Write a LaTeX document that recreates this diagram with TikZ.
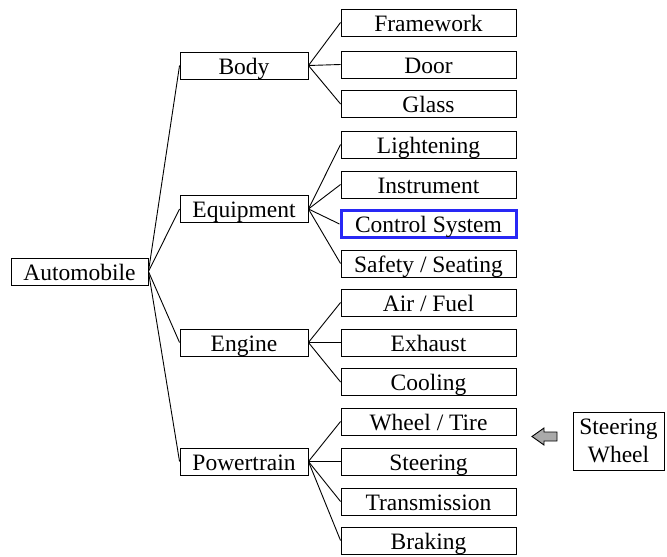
\documentclass[tikz,border=0pt]{standalone}
\usepackage{fontspec}
\setmainfont{Liberation Serif}
\newfontfamily\boxfont{Liberation Serif}
\definecolor{selblue}{RGB}{40,40,245}
\definecolor{arrowgray}{RGB}{170,170,170}
\begin{document}
\begin{tikzpicture}[x=1pt,y=-1pt,
  box/.style={draw=black,line width=0.9pt,inner sep=0pt,
    font=\boxfont\fontsize{23.5}{25}\selectfont},
  one/.style={box,text height=21.5pt,text depth=4.5pt},
  leaf/.style={one,minimum width=175pt,minimum height=27pt},
  mid/.style={one,minimum width=128pt,minimum height=27pt},
  link/.style={line width=0.9pt}]
\useasboundingbox (0,0) rectangle (667,557);

% root
\node[one,minimum width=137pt,minimum height=27pt] (auto) at (79.5,271.5) {Automobile};

% second level
\node[mid] (body)  at (244,65.5)  {Body};
\node[mid] (equip) at (244,209)   {Equipment};
\node[mid] (eng)   at (244,342.5) {Engine};
\node[mid] (ptr)   at (244,461.5) {Powertrain};

% leaves
\node[leaf] (frame) at (428.5,22.5)  {Framework};
\node[leaf] (door)  at (428.5,64.5)  {Door};
\node[leaf] (glass) at (428.5,104)   {Glass};
\node[leaf] (light) at (428.5,144.5) {Lightening};
\node[leaf] (instr) at (428.5,184.5) {Instrument};
\node[leaf,draw=selblue,line width=3pt] (ctrl) at (428.5,224) {Control System};
\node[leaf] (safe)  at (428.5,263.5) {Safety / Seating};
\node[leaf] (air)   at (428.5,302.5) {Air / Fuel};
\node[leaf] (exh)   at (428.5,342.5) {Exhaust};
\node[leaf] (cool)  at (428.5,382)   {Cooling};
\node[leaf] (wheel) at (428.5,421.5) {Wheel / Tire};
\node[leaf] (steer) at (428.5,461.5) {Steering};
\node[leaf] (trans) at (428.5,501.5) {Transmission};
\node[leaf] (brake) at (428.5,540.5) {Braking};

% side box
\node[box,minimum width=91pt,minimum height=58pt,align=center,
  font=\boxfont\fontsize{23.5}{28}\selectfont] (sw) at (618.5,441) {Steering\\Wheel};

% connectors
\foreach \c in {body,equip,eng,ptr} \draw[link] (auto.east) -- (\c.west);
\foreach \c in {frame,door,glass} \draw[link] (body.east) -- (\c.west);
\foreach \c in {light,instr,ctrl,safe} \draw[link] (equip.east) -- (\c.west);
\foreach \c in {air,exh,cool} \draw[link] (eng.east) -- (\c.west);
\foreach \c in {wheel,steer,trans,brake} \draw[link] (ptr.east) -- (\c.west);

% hint arrow pointing to the steering row
\draw[fill=arrowgray,line width=0.9pt]
  (532,436.5) -- (544,428) -- (544,432) -- (557,432) -- (557,441)
  -- (544,441) -- (544,445) -- cycle;
\end{tikzpicture}
\end{document}
